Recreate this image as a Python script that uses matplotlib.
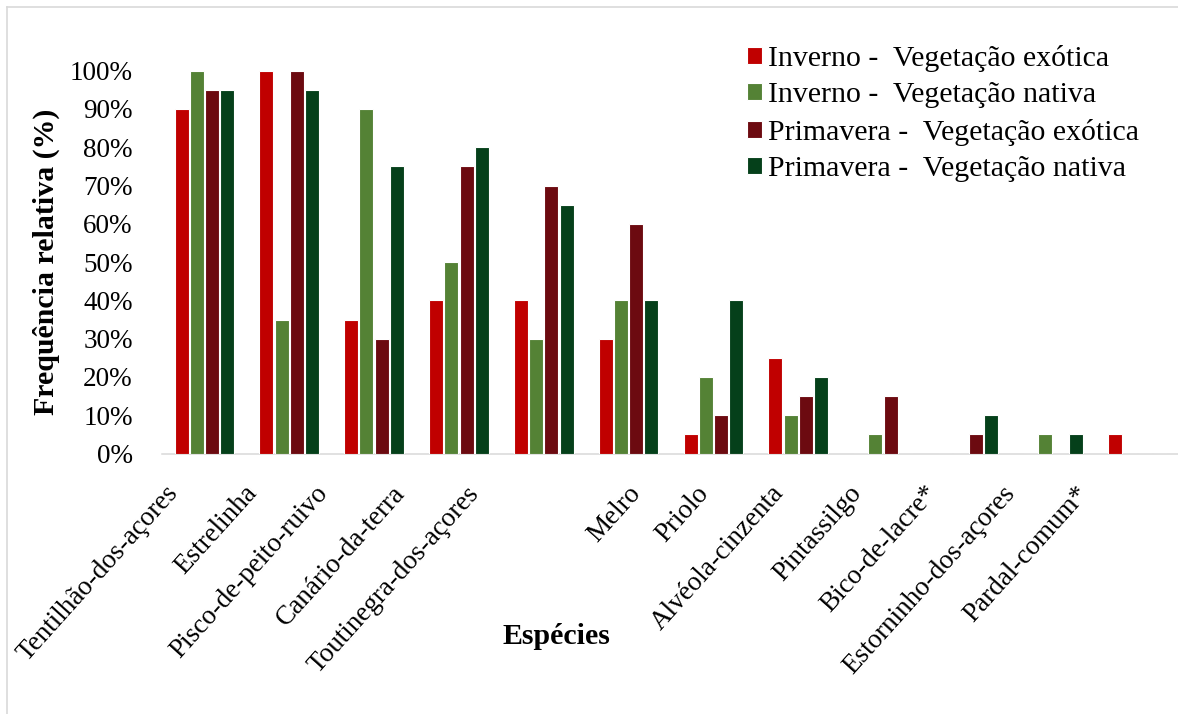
import matplotlib
matplotlib.use('Agg')
import matplotlib.pyplot as plt
import matplotlib.transforms as mtransforms
from matplotlib.lines import Line2D
import numpy as np

plt.rcParams['font.family'] = ['Liberation Serif', 'DejaVu Serif']

# --- Data ---
species = [
    'Tentilhão-dos-açores', 'Estrelinha', 'Pisco-de-peito-ruivo', 'Canário-da-terra',
    'Toutinegra-dos-açores', 'Melro', 'Priolo', 'Alvéola-cinzenta', 'Pintassilgo',
    'Bico-de-lacre*', 'Estorninho-dos-açores', 'Pardal-comum*',
]
inverno_exotica = [90, 100, 35, 40, 40, 30, 5, 25, 0, 0, 0, 5]
inverno_nativa = [100, 35, 90, 50, 30, 40, 20, 10, 5, 0, 5, 0]
primavera_exotica = [95, 100, 30, 75, 70, 60, 10, 15, 15, 5, 0, 0]
primavera_nativa = [95, 95, 75, 80, 65, 40, 40, 20, 0, 10, 5, 0]

series_names = [
    'Inverno -  Vegetação exótica',
    'Inverno -  Vegetação nativa',
    'Primavera -  Vegetação exótica',
    'Primavera -  Vegetação nativa',
]
y_ticks = list(range(0, 101, 10))

# --- Style ---
COLORS = ['#C00000', '#548235', '#6C0A10', '#05401A']
GRID_GRAY = '#D9D9D9'
FS = 19.5        # tick labels
FS_TITLE = 21.5  # axis titles and legend
# horizontal nudge (px) for each rotated category label
LABEL_SHIFT = [-26, -31, -45, -53, -64, 13, -4, -14, -21, -30, -37, -48]

W, H = 1178, 714
fig = plt.figure(figsize=(W / 100, H / 100), dpi=100)
ax_l, ax_r, ax_b, ax_t = 162, 1180, 453.5, 70.7
ax = fig.add_axes([ax_l / W, 1 - ax_b / H, (ax_r - ax_l) / W, (ax_b - ax_t) / H])

x = np.arange(len(species))
slot = 0.18
bar_w = 0.165
all_series = [inverno_exotica, inverno_nativa, primavera_exotica, primavera_nativa]
for i, (vals, name, col) in enumerate(zip(all_series, series_names, COLORS)):
    offs = (i - 1.5) * slot
    ax.bar(x + offs, vals, width=bar_w, color=col, edgecolor='white',
           linewidth=0.8, label=name, zorder=2)

ax.set_xlim(-0.5, len(species) - 0.5)
ax.set_ylim(0, 100)
ax.set_yticks(y_ticks)
ax.set_yticklabels([f'{v}%' for v in y_ticks])

for s in ['top', 'right', 'left']:
    ax.spines[s].set_visible(False)
ax.spines['bottom'].set_color(GRID_GRAY)
ax.spines['bottom'].set_linewidth(1.1)
ax.spines['bottom'].set_zorder(1)

ax.tick_params(axis='y', length=0, pad=21, labelsize=FS)
ax.tick_params(axis='x', length=0, pad=29, labelsize=FS)
ax.set_xticks(x)
ax.set_xticklabels(species)
for lbl, dx in zip(ax.get_xticklabels(), LABEL_SHIFT):
    lbl.set_rotation(48)
    lbl.set_rotation_mode('anchor')
    lbl.set_ha('right')
    lbl.set_va('baseline')
    lbl.set_transform(lbl.get_transform() +
                      mtransforms.ScaledTranslation(dx / 100, 0, fig.dpi_scale_trans))

ax_w = ax_r - ax_l
ax_h = ax_b - ax_t
ax.set_ylabel('Frequência relativa (%)', fontsize=FS_TITLE, fontweight='bold', va='center')
ax.yaxis.set_label_coords((46 - ax_l) / ax_w, 0.5)
ax.set_xlabel('Espécies', fontsize=FS_TITLE, fontweight='bold', va='center')
ax.xaxis.set_label_coords((556 - ax_l) / ax_w, (ax_b - 636) / ax_h)

fig.legend(loc='upper left', bbox_to_anchor=(747 / W, 1 - 45 / H),
           frameon=False, fontsize=FS_TITLE, borderpad=0, borderaxespad=0,
           handlelength=0.5, handleheight=0.5, handletextpad=0.2,
           labelspacing=0.35)

# chart-area border (left and top edges)
fig.add_artist(Line2D([7 / W, 7 / W], [0, 1 - 7 / H], color=GRID_GRAY, lw=1.2))
fig.add_artist(Line2D([7 / W, 1], [1 - 7 / H, 1 - 7 / H], color=GRID_GRAY, lw=1.2))

fig.savefig('out.png', dpi=100)
